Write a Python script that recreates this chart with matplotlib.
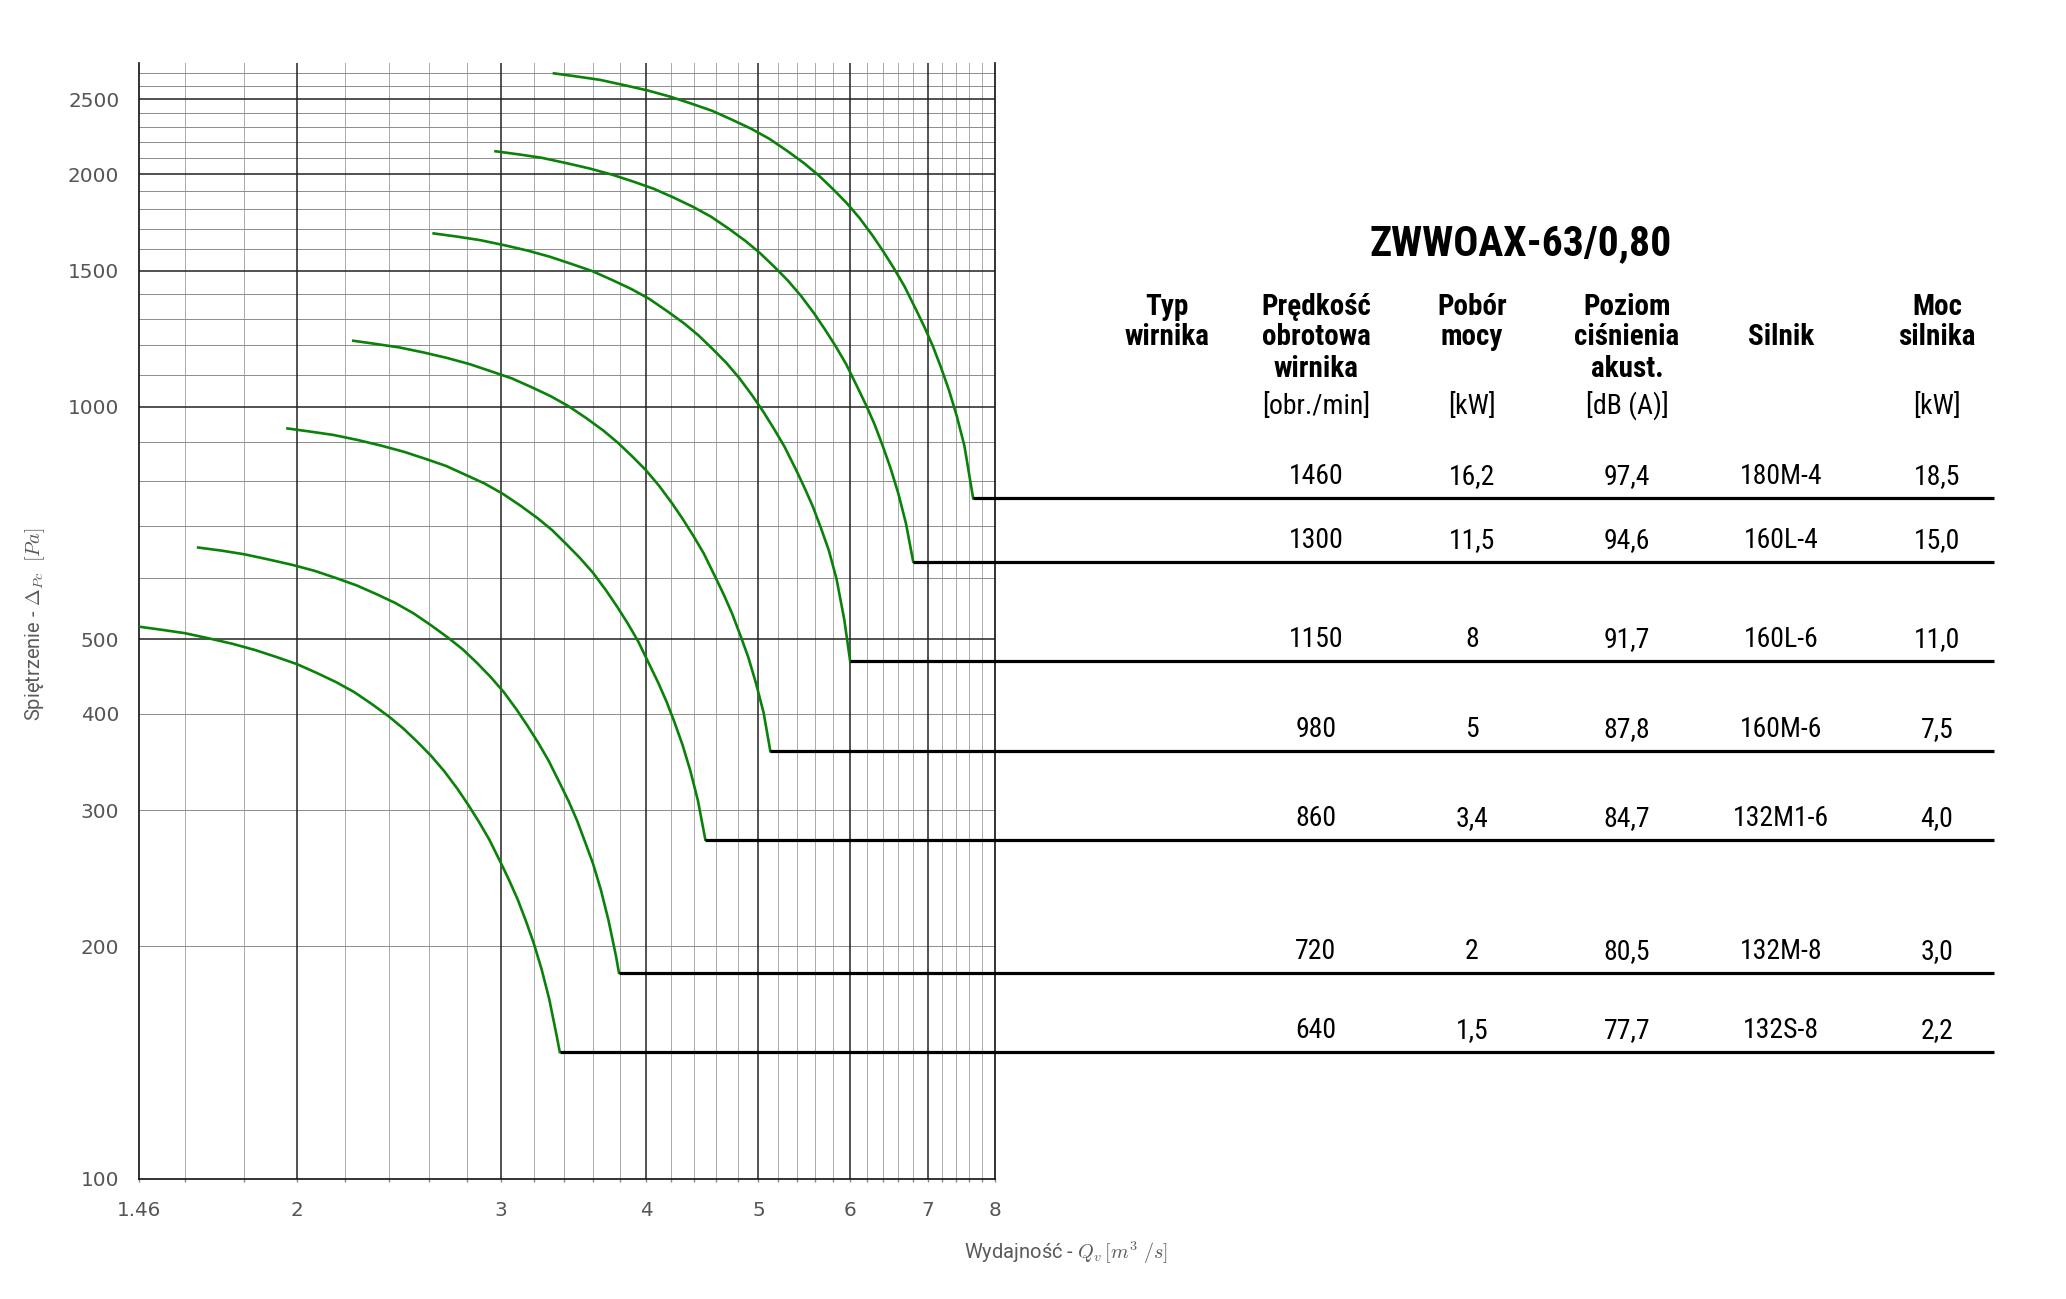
import numpy as np
import matplotlib
matplotlib.use('Agg')
import matplotlib.pyplot as plt
import matplotlib.transforms as mtransforms
from matplotlib.ticker import FixedLocator, FixedFormatter, NullFormatter, NullLocator

W, H = 2066, 1299
plt.rcParams['mathtext.fontset'] = 'cm'
NARROW = ['Liberation Sans Narrow', 'Roboto Condensed', 'Noto Sans Condensed', 'Noto Sans', 'DejaVu Sans']

# fan curves, Q [m3/s] / dPc [Pa]
speeds = [1460, 1300, 1150, 980, 860, 720, 640]
q_1460 = [3.331, 3.490, 3.650, 3.833, 4.015, 4.198, 4.380, 4.563, 4.745, 4.928, 5.110, 5.293, 5.475, 5.635,
          5.794, 5.954, 6.114, 6.273, 6.410, 6.547, 6.684, 6.844, 6.958, 7.072, 7.186, 7.300, 7.414, 7.528, 7.660]
p_1460 = [2701, 2675, 2649, 2607, 2566, 2519, 2467, 2415, 2352, 2290, 2222, 2144, 2066, 1993,
          1915, 1837, 1754, 1665, 1587, 1509, 1431, 1332, 1265, 1197, 1124, 1051, 973, 890, 761]
q_1300 = [2.966, 3.108, 3.250, 3.413, 3.575, 3.738, 3.900, 4.063, 4.225, 4.388, 4.550, 4.713, 4.875, 5.017,
          5.159, 5.302, 5.444, 5.586, 5.708, 5.830, 5.952, 6.094, 6.195, 6.297, 6.398, 6.500, 6.602, 6.703, 6.800]
p_1300 = [2141, 2121, 2100, 2067, 2034, 1997, 1956, 1914, 1865, 1815, 1762, 1700, 1638, 1580,
          1518, 1456, 1390, 1320, 1258, 1197, 1135, 1056, 1003, 949, 891, 833, 772, 706, 630]
q_1150 = [2.623, 2.749, 2.875, 3.019, 3.163, 3.306, 3.450, 3.594, 3.738, 3.881, 4.025, 4.169, 4.313, 4.438,
          4.564, 4.690, 4.816, 4.941, 5.049, 5.157, 5.265, 5.391, 5.480, 5.570, 5.660, 5.750, 5.840, 5.930, 6.000]
p_1150 = [1676, 1660, 1643, 1618, 1592, 1563, 1530, 1498, 1459, 1421, 1379, 1330, 1282, 1237,
          1188, 1140, 1088, 1033, 985, 936, 888, 827, 785, 743, 697, 652, 598, 530, 468]
q_980 = [2.236, 2.343, 2.450, 2.573, 2.695, 2.818, 2.940, 3.063, 3.185, 3.308, 3.430, 3.553, 3.675, 3.782,
         3.889, 3.997, 4.104, 4.211, 4.303, 4.395, 4.487, 4.594, 4.670, 4.747, 4.823, 4.900, 4.977, 5.053, 5.120]
p_980 = [1217, 1205, 1193, 1175, 1156, 1135, 1111, 1088, 1060, 1032, 1001, 966, 931, 898,
         863, 828, 790, 750, 715, 680, 645, 600, 570, 539, 506, 474, 438, 401, 358]
q_860 = [1.962, 2.056, 2.150, 2.258, 2.365, 2.473, 2.580, 2.688, 2.795, 2.903, 3.010, 3.118, 3.225, 3.319,
         3.413, 3.507, 3.601, 3.695, 3.776, 3.857, 3.937, 4.031, 4.098, 4.166, 4.233, 4.300, 4.367, 4.434, 4.500]
p_860 = [937, 928, 919, 905, 890, 874, 856, 838, 816, 795, 771, 744, 717, 692,
         664, 637, 609, 578, 551, 524, 497, 462, 439, 415, 390, 365, 338, 309, 275]
q_720 = [1.643, 1.721, 1.800, 1.890, 1.980, 2.070, 2.160, 2.250, 2.340, 2.430, 2.520, 2.610, 2.700, 2.779, 2.858,
         2.936, 3.015, 3.094, 3.161, 3.229, 3.296, 3.375, 3.431, 3.488, 3.544, 3.600, 3.656, 3.713, 3.769, 3.790]
p_720 = [657, 651, 644, 634, 624, 613, 600, 587, 572, 557, 540, 521, 502, 485, 466,
         447, 427, 405, 386, 367, 348, 324, 308, 291, 273, 256, 237, 216, 194, 185]
q_640 = [1.46, 1.53, 1.60, 1.68, 1.76, 1.84, 1.92, 2.00, 2.08, 2.16, 2.24, 2.32, 2.40, 2.47, 2.54,
         2.61, 2.68, 2.75, 2.81, 2.87, 2.93, 3.00, 3.05, 3.10, 3.15, 3.20, 3.25, 3.30, 3.35, 3.37]
p_640 = [519, 514, 509, 501, 493, 484, 474, 464, 452, 440, 427, 412, 397, 383, 368,
         353, 337, 320, 305, 290, 275, 256, 243, 230, 216, 202, 187, 171, 153, 146]

curves_q = [q_1460, q_1300, q_1150, q_980, q_860, q_720, q_640]
curves_p = [p_1460, p_1300, p_1150, p_980, p_860, p_720, p_640]

# table
pobor = ['16,2', '11,5', '8', '5', '3,4', '2', '1,5']
poziom = ['97,4', '94,6', '91,7', '87,8', '84,7', '80,5', '77,7']
silnik = ['180M-4', '160L-4', '160L-6', '160M-6', '132M1-6', '132M-8', '132S-8']
moc = ['18,5', '15,0', '11,0', '7,5', '4,0', '3,0', '2,2']
headers = [['Typ', 'wirnika', ''], ['Prędkość', 'obrotowa', 'wirnika'], ['Pobór', 'mocy', ''],
           ['Poziom', 'ciśnienia', 'akust.'], ['', 'Silnik', ''], ['Moc', 'silnika', '']]
units = ['', '[obr./min]', '[kW]', '[dB (A)]', '', '[kW]']
title = 'ZWWOAX-63/0,80'

x_ticks = [1.46, 2, 3, 4, 5, 6, 7, 8]
x_ticklabels = ['1.46', '2', '3', '4', '5', '6', '7', '8']
y_ticks = [100, 200, 300, 400, 500, 1000, 1500, 2000, 2500]

fig = plt.figure(figsize=(W / 100, H / 100), dpi=100)
ax = fig.add_axes([138.7 / W, 1 - 1179 / H, (995 - 138.7) / W, (1179 - 62.7) / H])
ax.set_xscale('log')
ax.set_yscale('log')
ax.set_xlim(1.46, 8)
ax.set_ylim(100, 2788)

# grid lines
x_minor = [v for v in np.round(np.arange(1.6, 8, 0.2), 1) if abs(v - round(v)) > 0.01]
for v in x_minor:
    ax.axvline(v, color='#aaaaaa', lw=0.7, zorder=1)
for v in [2, 3, 4, 5, 6, 7]:
    ax.axvline(v, color='#222222', lw=1.1, zorder=1.5)
y_gray = [100, 200, 300, 400] + [v for v in range(600, 2800, 100) if v % 500]
for v in y_gray:
    ax.axhline(v, color='#8c8c8c', lw=0.7, zorder=1)
for v in [500, 1000, 1500, 2000, 2500]:
    ax.axhline(v, color='#222222', lw=1.1, zorder=1.5)

ax.xaxis.set_major_locator(FixedLocator(x_ticks))
ax.xaxis.set_major_formatter(FixedFormatter(x_ticklabels))
ax.xaxis.set_minor_locator(FixedLocator(x_minor))
ax.xaxis.set_minor_formatter(NullFormatter())
ax.yaxis.set_major_locator(FixedLocator(y_ticks))
ax.yaxis.set_major_formatter(FixedFormatter([str(v) for v in y_ticks]))
ax.yaxis.set_minor_locator(NullLocator())
ax.tick_params(axis='x', which='both', length=2, width=1, color='#888888', direction='out',
               pad=14, labelsize=14.4, labelcolor='#555555')
ax.tick_params(axis='y', which='both', length=0, pad=14, labelsize=14.4, labelcolor='#555555')
ax.spines['top'].set_visible(False)
for s in ['left', 'bottom', 'right']:
    ax.spines[s].set_color('#111111')
    ax.spines[s].set_linewidth(1.2)

blend = mtransforms.blended_transform_factory(fig.transFigure, ax.transData)
row_trans = mtransforms.offset_copy(blend, fig=fig, x=0, y=14, units='dots')
to_fig = fig.transFigure.inverted()

for q, p in zip(curves_q, curves_p):
    ax.plot(q, p, color='#0a820a', lw=1.9, zorder=3, solid_joinstyle='round')
    x0 = to_fig.transform(ax.transData.transform((q[-1], p[-1])))[0]
    ax.plot([x0, 1994 / W], [p[-1], p[-1]], transform=blend, color='black', lw=2.3,
            clip_on=False, zorder=4, solid_capstyle='butt')

col_x = [1166.7, 1316, 1472, 1627, 1781, 1937]
fig.text(1521 / W, 1 - 255 / H, title, ha='center', va='baseline', fontsize=30,
         fontweight='bold', fontstretch='condensed', family=NARROW)
for cx, lines, unit in zip(col_x, headers, units):
    for line, by in zip(lines, [315, 345, 377]):
        if line:
            fig.text(cx / W, 1 - by / H, line, ha='center', va='baseline', fontsize=21,
                     fontweight='bold', fontstretch='condensed', family=NARROW)
    if unit:
        fig.text(cx / W, 1 - 414 / H, unit, ha='center', va='baseline', fontsize=20,
                 fontstretch='condensed', family=NARROW)

for i, p in enumerate(curves_p):
    cells = [str(speeds[i]), pobor[i], poziom[i], silnik[i], moc[i]]
    for cx, s in zip(col_x[1:], cells):
        fig.text(cx / W, p[-1], s, transform=row_trans, ha='center', va='baseline',
                 fontsize=20, fontstretch='condensed', family=NARROW)

fig.text(35 / W, 1 - 624 / H, 'Spiętrzenie - $\\Delta_{Pc}$  $[Pa]$', rotation=90,
         ha='center', va='center', fontsize=14.5, color='#5a5a5a', family='Roboto')
fig.text(1066 / W, 1 - 1253 / H, 'Wydajność - $Q_v\\,[m^3\\ /s]$', ha='center', va='center',
         fontsize=14.5, color='#5a5a5a', family='Roboto')

plt.savefig('out.png', dpi=100)
plt.close()
